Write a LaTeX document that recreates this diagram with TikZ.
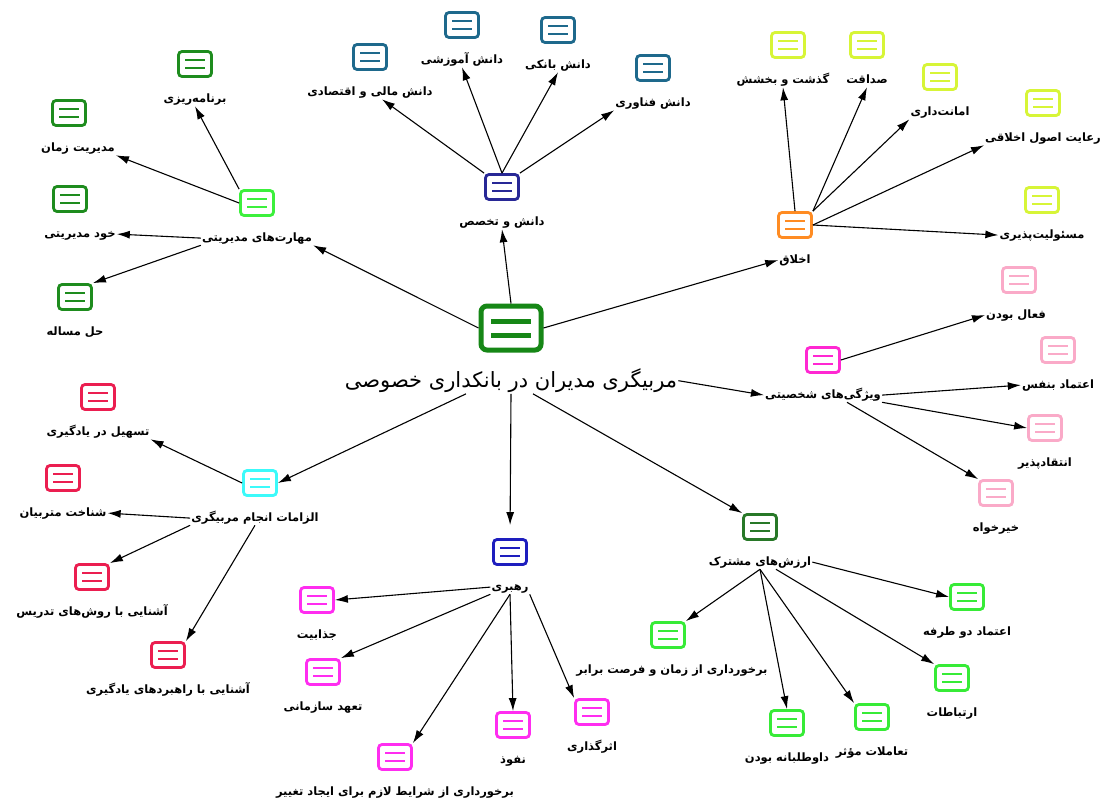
\documentclass[tikz,border=0pt]{standalone}
\usepackage{fontspec}
\usepackage{tikz}
\usetikzlibrary{positioning,arrows.meta}
\TeXXeTstate=1
\newfontfamily\fa[Script=Arabic]{DejaVu Sans}
\newcommand{\rtl}[1]{\beginR #1\endR}

\definecolor{colRoot}{RGB}{22,135,22}
\definecolor{colSkill}{RGB}{60,240,60}
\definecolor{colSkillSub}{RGB}{30,140,30}
\definecolor{colKnow}{RGB}{40,40,150}
\definecolor{colKnowSub}{RGB}{30,105,140}
\definecolor{colEthic}{RGB}{255,140,35}
\definecolor{colEthicSub}{RGB}{215,245,55}
\definecolor{colTrait}{RGB}{255,40,210}
\definecolor{colTraitSub}{RGB}{250,170,200}
\definecolor{colValue}{RGB}{40,120,40}
\definecolor{colValueSub}{RGB}{55,235,55}
\definecolor{colLead}{RGB}{30,30,190}
\definecolor{colLeadSub}{RGB}{255,45,240}
\definecolor{colNeed}{RGB}{60,250,250}
\definecolor{colNeedSub}{RGB}{235,30,80}

\tikzset{
	icon/.style={draw=#1, line width=2.8pt, rounded corners=3.5pt, minimum width=33pt, minimum height=25pt, inner sep=0pt,
		path picture={
			\draw[#1, line width=2.8pt] ([xshift=-10pt,yshift=4pt]path picture bounding box.center) -- ([xshift=10pt,yshift=4pt]path picture bounding box.center)
				([xshift=-10pt,yshift=-4pt]path picture bounding box.center) -- ([xshift=10pt,yshift=-4pt]path picture bounding box.center);
		}},
	rooticon/.style={draw=#1, line width=5pt, rounded corners=6pt, minimum width=60pt, minimum height=44pt, inner sep=0pt,
		path picture={
			\draw[#1, line width=5pt] ([xshift=-20pt,yshift=7pt]path picture bounding box.center) -- ([xshift=20pt,yshift=7pt]path picture bounding box.center)
				([xshift=-20pt,yshift=-7pt]path picture bounding box.center) -- ([xshift=20pt,yshift=-7pt]path picture bounding box.center);
		}},
	lbl/.style={font=\fa\bfseries\fontsize{11.5}{13}\selectfont, inner sep=1pt, text height=9pt, text depth=3pt},
	linkarr/.style={-{Latex[length=13pt,width=8pt]}, line width=1.1pt}
}

\begin{document}
\begin{tikzpicture}[x=1pt,y=-1pt]
	\useasboundingbox[fill=white] (0,0) rectangle (1113,803);

	\node[rooticon=colRoot] (c) at (511,328) {};
	\node[below=15pt of c, font=\fa\fontsize{21}{25}\selectfont, inner sep=1pt] (c-t) {\rtl{مربیگری مدیران در بانکداری خصوصی}};

	\node[icon=colSkill] (A) at (257,203) {};
	\node[lbl, below=14pt of A] (A-t) {\rtl{مهارت‌های مدیریتی}};
	\node[icon=colSkillSub] (A1) at (195,64) {};
	\node[lbl, below=14pt of A1] (A1-t) {\rtl{برنامه‌ریزی}};
	\node[icon=colSkillSub] (A2) at (69,113) {};
	\node[lbl, below=14pt of A2, xshift=9pt] (A2-t) {\rtl{مدیریت زمان}};
	\node[icon=colSkillSub] (A3) at (70,199) {};
	\node[lbl, below=14pt of A3, xshift=10pt] (A3-t) {\rtl{خود مدیریتی}};
	\node[icon=colSkillSub] (A4) at (75,297) {};
	\node[lbl, below=14pt of A4] (A4-t) {\rtl{حل مساله}};

	\node[icon=colKnow] (B) at (502,187) {};
	\node[lbl, below=14pt of B] (B-t) {\rtl{دانش و تخصص}};
	\node[icon=colKnowSub] (B1) at (370,57) {};
	\node[lbl, below=14pt of B1] (B1-t) {\rtl{دانش مالی و اقتصادی}};
	\node[icon=colKnowSub] (B2) at (462,25) {};
	\node[lbl, below=14pt of B2] (B2-t) {\rtl{دانش آموزشی}};
	\node[icon=colKnowSub] (B3) at (558,30) {};
	\node[lbl, below=14pt of B3] (B3-t) {\rtl{دانش بانکی}};
	\node[icon=colKnowSub] (B4) at (653,68) {};
	\node[lbl, below=14pt of B4] (B4-t) {\rtl{دانش فناوری}};

	\node[icon=colEthic] (C) at (795,225) {};
	\node[lbl, below=14pt of C] (C-t) {\rtl{اخلاق}};
	\node[icon=colEthicSub] (C1) at (788,45) {};
	\node[lbl, below=14pt of C1, xshift=-5pt] (C1-t) {\rtl{گذشت و بخشش}};
	\node[icon=colEthicSub] (C2) at (867,45) {};
	\node[lbl, below=14pt of C2] (C2-t) {\rtl{صداقت}};
	\node[icon=colEthicSub] (C3) at (940,77) {};
	\node[lbl, below=14pt of C3] (C3-t) {\rtl{امانت‌داری}};
	\node[icon=colEthicSub] (C4) at (1043,103) {};
	\node[lbl, below=14pt of C4] (C4-t) {\rtl{رعایت اصول اخلاقی}};
	\node[icon=colEthicSub] (C5) at (1042,200) {};
	\node[lbl, below=14pt of C5] (C5-t) {\rtl{مسئولیت‌پذیری}};

	\node[icon=colTrait] (D) at (823,360) {};
	\node[lbl, below=14pt of D] (D-t) {\rtl{ویژگی‌های شخصیتی}};
	\node[icon=colTraitSub] (D1) at (1019,280) {};
	\node[lbl, below=14pt of D1, xshift=-3pt] (D1-t) {\rtl{فعال بودن}};
	\node[icon=colTraitSub] (D2) at (1058,350) {};
	\node[lbl, below=14pt of D2] (D2-t) {\rtl{اعتماد بنفس}};
	\node[icon=colTraitSub] (D3) at (1045,428) {};
	\node[lbl, below=14pt of D3] (D3-t) {\rtl{انتقادپذیر}};
	\node[icon=colTraitSub] (D4) at (996,493) {};
	\node[lbl, below=14pt of D4] (D4-t) {\rtl{خیرخواه}};

	\node[icon=colValue] (E) at (760,527) {};
	\node[lbl, below=14pt of E] (E-t) {\rtl{ارزش‌های مشترک}};
	\node[icon=colValueSub] (E1) at (967,597) {};
	\node[lbl, below=14pt of E1] (E1-t) {\rtl{اعتماد دو طرفه}};
	\node[icon=colValueSub] (E2) at (668,635) {};
	\node[lbl, below=14pt of E2, xshift=4pt] (E2-t) {\rtl{برخورداری از زمان و فرصت برابر}};
	\node[icon=colValueSub] (E3) at (787,723) {};
	\node[lbl, below=14pt of E3] (E3-t) {\rtl{داوطلبانه بودن}};
	\node[icon=colValueSub] (E4) at (872,717) {};
	\node[lbl, below=14pt of E4] (E4-t) {\rtl{تعاملات مؤثر}};
	\node[icon=colValueSub] (E5) at (952,678) {};
	\node[lbl, below=14pt of E5] (E5-t) {\rtl{ارتباطات}};

	\node[icon=colLead] (F) at (510,552) {};
	\node[lbl, below=14pt of F] (F-t) {\rtl{رهبری}};
	\node[icon=colLeadSub] (F1) at (317,600) {};
	\node[lbl, below=14pt of F1] (F1-t) {\rtl{جذابیت}};
	\node[icon=colLeadSub] (F2) at (323,672) {};
	\node[lbl, below=14pt of F2] (F2-t) {\rtl{تعهد سازمانی}};
	\node[icon=colLeadSub] (F3) at (395,757) {};
	\node[lbl, below=14pt of F3] (F3-t) {\rtl{برخورداری از شرایط لازم برای ایجاد تغییر}};
	\node[icon=colLeadSub] (F4) at (513,725) {};
	\node[lbl, below=14pt of F4] (F4-t) {\rtl{نفوذ}};
	\node[icon=colLeadSub] (F5) at (592,712) {};
	\node[lbl, below=14pt of F5] (F5-t) {\rtl{اثرگذاری}};

	\node[icon=colNeed] (G) at (260,483) {};
	\node[lbl, below=14pt of G, xshift=-5pt] (G-t) {\rtl{الزامات انجام مربیگری}};
	\node[icon=colNeedSub] (G1) at (98,397) {};
	\node[lbl, below=14pt of G1] (G1-t) {\rtl{تسهیل در یادگیری}};
	\node[icon=colNeedSub] (G2) at (63,478) {};
	\node[lbl, below=14pt of G2] (G2-t) {\rtl{شناخت متربیان}};
	\node[icon=colNeedSub] (G3) at (92,577) {};
	\node[lbl, below=14pt of G3] (G3-t) {\rtl{آشنایی با روش‌های تدریس}};
	\node[icon=colNeedSub] (G4) at (168,655) {};
	\node[lbl, below=14pt of G4] (G4-t) {\rtl{آشنایی با راهبردهای یادگیری}};

	\draw[linkarr] (c.west) -- (A-t.south east);
	\draw[linkarr] (c.north) -- (B-t.south);
	\draw[linkarr] (c.east) -- (C-t.west);
	\draw[linkarr] (c-t.east) -- (D-t.west);
	\draw[linkarr] ([xshift=22pt]c-t.south) -- (E.north west);
	\draw[linkarr, shorten >=13pt] (c-t.south) -- (F.north);
	\draw[linkarr] ([xshift=-45pt]c-t.south) -- (G.east);

	\draw[linkarr] (A.north west) -- (A1-t.south);
	\draw[linkarr] (A.west) -- (A2-t.south east);
	\draw[linkarr] (A-t.west) -- (A3-t.east);
	\draw[linkarr] (A-t.south west) -- (A4.north east);

	\draw[linkarr] (B.north west) -- ([xshift=12pt]B1-t.south);
	\draw[linkarr] (B.north) -- (B2-t.south);
	\draw[linkarr] (B.north) -- (B3-t.south);
	\draw[linkarr] (B.north east) -- (B4-t.south west);

	\draw[linkarr] (C.north) -- (C1-t.south);
	\draw[linkarr] (C.north east) -- (C2-t.south);
	\draw[linkarr] (C.north east) -- (C3-t.south west);
	\draw[linkarr] (C.east) -- (C4-t.south west);
	\draw[linkarr] (C.east) -- (C5-t.west);

	\draw[linkarr] (D.east) -- (D1-t.west);
	\draw[linkarr] (D-t.east) -- (D2-t.west);
	\draw[linkarr] (D-t.south east) -- (D3.west);
	\draw[linkarr] ([xshift=24pt]D-t.south) -- (D4.north west);

	\draw[linkarr] (E-t.east) -- (E1.west);
	\draw[linkarr] (E-t.south) -- (E2.north east);
	\draw[linkarr] (E-t.south) -- (E3.north);
	\draw[linkarr] (E-t.south) -- (E4.north west);
	\draw[linkarr] ([xshift=16pt]E-t.south) -- (E5.north west);

	\draw[linkarr] (F-t.west) -- (F1.east);
	\draw[linkarr] (F-t.south west) -- (F2.north east);
	\draw[linkarr] (F-t.south) -- (F3.north east);
	\draw[linkarr] (F-t.south) -- (F4.north);
	\draw[linkarr] (F-t.south east) -- (F5.north west);

	\draw[linkarr] (G.west) -- (G1-t.south east);
	\draw[linkarr] (G-t.west) -- (G2-t.east);
	\draw[linkarr] (G-t.south west) -- (G3.north east);
	\draw[linkarr] (G-t.south) -- (G4.north east);
\end{tikzpicture}
\end{document}
